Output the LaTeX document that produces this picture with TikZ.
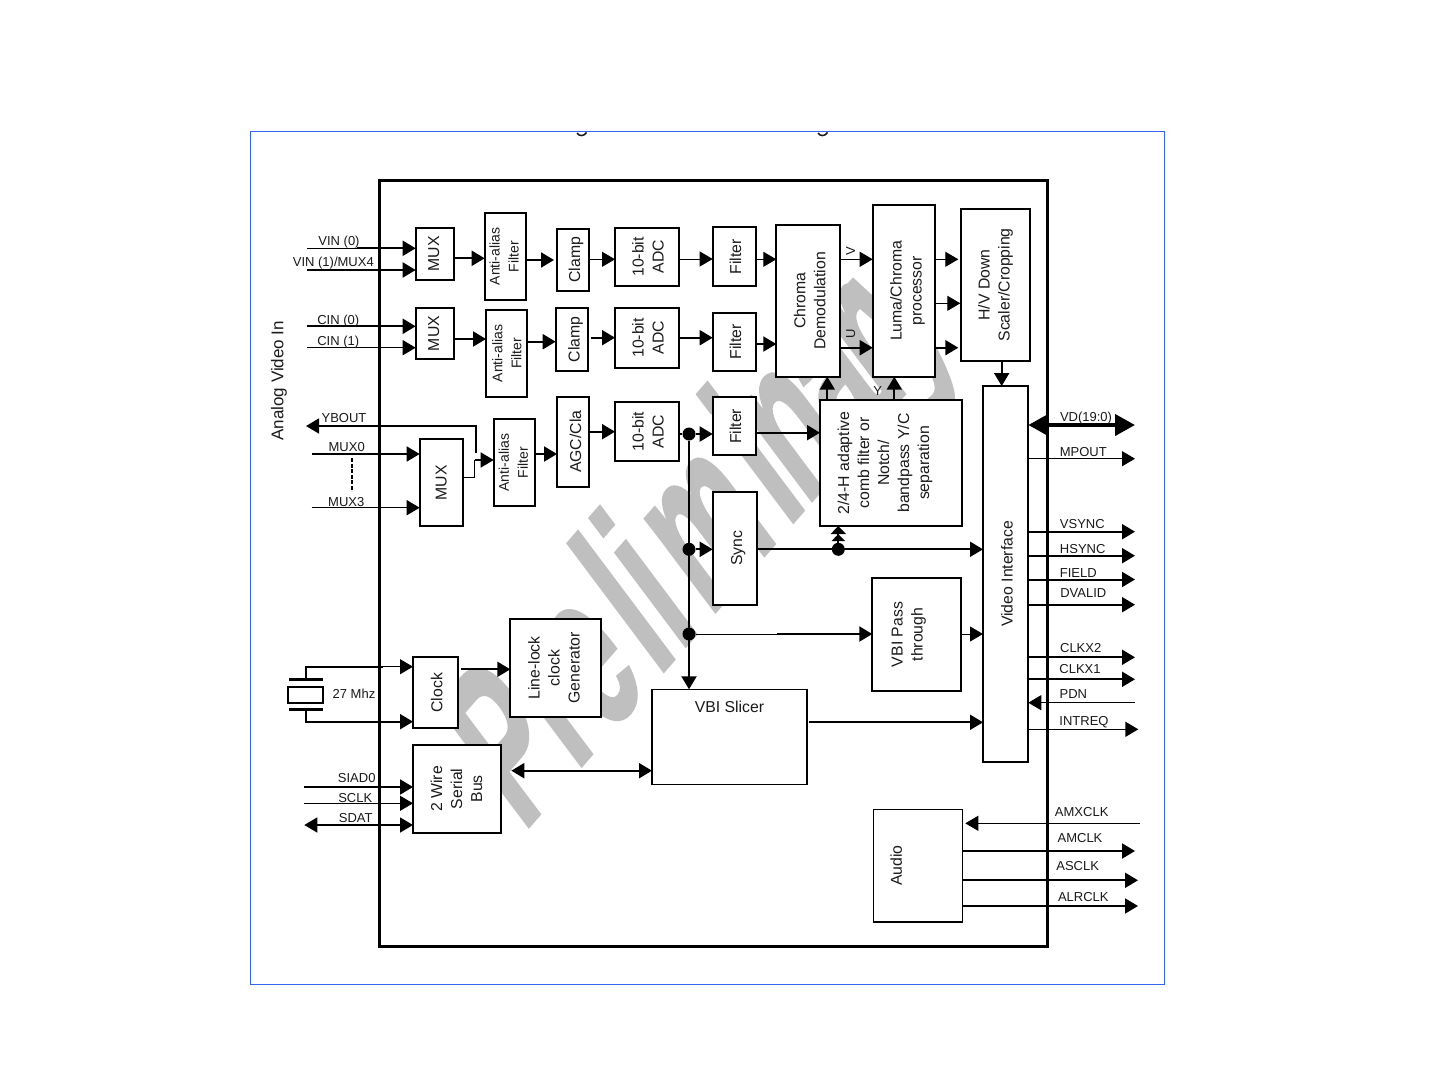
\documentclass[tikz,border=0pt]{standalone}
\usepackage{graphicx}
\usepackage{fontspec}
\setmainfont{Liberation Sans}
\newfontfamily\wmfont[BoldFeatures={FakeBold=1.5}]{Liberation Sans}
\usetikzlibrary{arrows.meta,calc}
\definecolor{ink}{HTML}{1A1A1A}
\definecolor{wm}{HTML}{BFBFBF}
\definecolor{framecol}{HTML}{3366F0}
\tikzset{
  blk/.style={draw=black,fill=white,line width=2pt,inner sep=0pt,outer sep=0pt,text=ink,align=center},
  lab/.style={inner sep=0pt,text=ink,font=\fontsize{13}{15}\selectfont},
  fat/.style={line width=2pt,draw=black},
  mid/.style={line width=1.5pt,draw=black},
  hair/.style={line width=1pt,draw=black},
  arr/.style={-{Triangle[length=13pt,width=15pt]}},
  biarr/.style={{Triangle[length=13pt,width=15pt]}-{Triangle[length=13pt,width=15pt]}},
  jn/.style={circle,fill=black,inner sep=0pt,minimum size=13pt}
}
\newcommand{\rt}[2][0]{\hspace*{\dimexpr #1pt*2\relax}\rotatebox{90}{\fontsize{15.8}{20}\selectfont\begin{tabular}{@{}c@{}}#2\end{tabular}}}
\newcommand{\rs}[2][0]{\hspace*{\dimexpr #1pt*2\relax}\rotatebox{90}{\fontsize{14}{19}\selectfont\begin{tabular}{@{}c@{}}#2\end{tabular}}}
\newcommand{\bx}[6][]{%
  \pgfmathsetmacro{\bxw}{#4-#2}\pgfmathsetmacro{\bxh}{#5-#3}%
  \pgfmathsetmacro{\bxa}{(#4+#2)/2}\pgfmathsetmacro{\bxb}{(#5+#3)/2}%
  \node[blk,minimum width=\bxw pt,minimum height=\bxh pt,#1] (#6) at (\bxa,\bxb)}
\newcommand{\lab}[4]{\node[lab] (#1) at (#2,#3) {#4};}
\newcommand{\hc}[4][fat,arr]{\draw[#1] (#2.east |- 0,#4) -- (#3.west |- 0,#4);}
\newcommand{\rout}[4][fat,arr]{\coordinate (#2e) at (#3,#4); \draw[#1] (vi.east |- #2e) -- (#2e);}
\newcommand{\aout}[4][fat,arr]{\coordinate (#2e) at (#3,#4); \draw[#1] (audio.east |- #2e) -- (#2e);}
\begin{document}
\begin{tikzpicture}[x=1pt,y=-1pt]
\useasboundingbox (0,0) rectangle (1440,1080);
\fill[white] (0,0) rectangle (1440,1080);
% frame
\node[draw=framecol,line width=1pt,minimum width=914pt,minimum height=853pt,inner sep=0pt] (frame) at (707.5,558) {};
% clipped title remnants
\draw[line width=1.5pt,ink] (577,133) .. controls (579,136.5) and (584,136.5) .. (586.5,132.5);
\draw[line width=1.5pt,ink] (818,133) .. controls (820,136.5) and (825,136.5) .. (827.5,132.5);
% watermark
\begin{scope}[cm={0.787,0.906,-1.32,1.76,(523,833)}]
\node[transform shape,anchor=base west,inner sep=0pt,text=wm,font=\fontsize{100}{100}\wmfont\bfseries] (wmark) at (0,0) {Pre\kern10pt li\kern10pt m\kern10pt i\kern-4pt n\kern-6pt a\kern-6pt r\kern-10pt y};
\end{scope}
% chip
\bx[line width=3pt,fill=none]{379}{180}{1047}{946}{chip}{};
% blocks
\bx{415.7}{227.7}{454.3}{280}{mux1}{\rt{MUX}};
\bx{484.7}{213}{525.7}{300}{aa1}{\rs{Anti-alias\\Filter}};
\bx{557}{228.7}{589}{291}{clamp1}{\rt[3]{Clamp}};
\bx{615}{227.7}{679.3}{286}{adc1}{\rt[2.5]{10-bit\\ADC}};
\bx{712.7}{227.3}{755.7}{286}{filter1}{\rt[3]{Filter}};
\bx{776.3}{225}{840.3}{376.7}{chroma}{\rt[3]{Chroma\\Demodulation}};
\bx{872.7}{205}{935.3}{376.7}{luma}{\rt[3.5]{Luma/Chroma\\processor}};
\bx{961.3}{209}{1030}{360.7}{hv}{\rt{H/V Down\\Scaler/Cropping}};
\bx{415.7}{307.7}{454.3}{359.3}{mux2}{\rt{MUX}};
\bx{486.3}{310}{526.7}{396.7}{aa2}{\rs[1.5]{Anti-alias\\Filter}};
\bx{555.7}{307.7}{587.7}{371}{clamp2}{\rt[4]{Clamp}};
\bx{615}{307.7}{679.3}{368}{adc2}{\rt[2.5]{10-bit\\ADC}};
\bx{712.7}{312.7}{755.7}{370.7}{filter2}{\rt[3]{Filter}};
\bx{557}{396.7}{589.3}{486.7}{agc}{\rt[4]{AGC/Cla}};
\bx{615}{402.3}{679.3}{460.7}{adc3}{\rt[2.5]{10-bit\\ADC}};
\bx{493.7}{419.3}{535.3}{506}{aa3}{\rs{Anti-alias\\Filter}};
\bx{419.7}{439.3}{463.3}{526.3}{mux3}{\rt[1]{MUX}};
\bx{712.7}{397.3}{755.7}{455.3}{filter3}{\rt[3]{Filter}};
\bx{820}{400}{962}{526}{comb}{\rt[-6]{2/4-H adaptive\\comb filter or\\Notch/\\bandpass Y/C\\separation}};
\bx{712.7}{492}{757.3}{604.7}{sync}{\rt[3]{Sync}};
\bx{983}{386}{1028.3}{761.7}{vi}{\rt[3]{Video Interface}};
\bx{872.3}{577.7}{960.7}{691.3}{vbip}{\rt[-8]{VBI Pass\\through}};
\bx{413}{657}{457.7}{728.3}{clock}{\rt[3]{Clock}};
\bx{510.3}{619}{600.7}{717}{linelock}{\rt{Line-lock\\clock\\Generator}};
\bx{413}{744.7}{501.3}{833}{wire}{\rt[1]{2 Wire\\Serial\\Bus}};
\bx[line width=1.5pt,align=center]{652}{689.3}{807}{784.7}{slicer}{};
\node[inner sep=0pt,text=ink,font=\fontsize{15.8}{18}\selectfont] (slicerlab) at (729.5,706.5) {VBI Slicer};
\bx[line width=1.5pt]{873.3}{809.3}{962.3}{922}{audio}{\rt[-20]{Audio}};
% inputs
\coordinate (vin0) at (307,248.3); \coordinate (vin0m) at (357,248.3);
\draw[hair] (vin0) -- (vin0m);
\draw[fat,arr] (vin0m) -- (mux1.west |- vin0m);
\coordinate (vin1) at (307,270); \draw[fat,arr] (vin1) -- (mux1.west |- vin1);
\coordinate (cin0) at (307,326.3); \draw[fat,arr] (cin0) -- (mux2.west |- cin0);
\coordinate (cin1) at (307,347.7); \draw[mid,arr] (cin1) -- (mux2.west |- cin1);
\coordinate (mx0) at (311.7,454); \draw[mid,arr] (mx0) -- (mux3.west |- mx0);
\coordinate (mx3) at (311.7,507.7); \draw[mid,arr] (mx3) -- (mux3.west |- mx3);
\coordinate (dsa) at (352,458); \coordinate (dsb) at (352,491);
\draw[line width=2.5pt,dash pattern=on 4pt off 1.5pt] (dsa) -- (dsb);
% YBOUT
\coordinate (ybout) at (306,426); \coordinate (ybc) at (476,426); \coordinate (ybd) at (476,453);
\draw[mid,arr] (ybd) -- (ybc) -- (ybout);
\coordinate (ma) at (474.5,477.7); \coordinate (mb) at (474.5,460);
\draw[mid] (mux3.east |- ma) -- (ma) -- (mb);
\draw[mid,arr] (mb) -- (aa3.west |- mb);
% row 1
\hc{mux1}{aa1}{258.3}
\hc[fat,arr,shorten >=3pt]{aa1}{clamp1}{260}
\hc[hair,arr]{clamp1}{adc1}{259.3}
\hc[hair,arr]{adc1}{filter1}{259}
\hc[hair,arr]{filter1}{chroma}{259.3}
\hc[hair,arr]{chroma}{luma}{259.3}
\hc[hair,arr,shorten >=3pt]{luma}{hv}{259.3}
\hc[hair,arr,shorten >=1pt]{luma}{hv}{303.3}
\hc[fat,arr,shorten >=3pt]{luma}{hv}{347.7}
% row 2
\hc{mux2}{aa2}{339}
\hc{aa2}{clamp2}{341.7}
\hc[fat,arr,shorten <=3pt]{clamp2}{adc2}{337.7}
\hc{adc2}{filter2}{337.7}
\hc{filter2}{chroma}{344}
\hc{chroma}{luma}{347.7}
% row 3
\hc{aa3}{agc}{454}
\hc{agc}{adc3}{431.7}
\node[jn] (j1) at (689,434) {};
\node[jn] (j2) at (689,549.3) {};
\node[jn] (j3) at (689,634) {};
\node[jn] (j4) at (838.3,549.3) {};
\draw[fat] (adc3.east |- j1) -- (j1);
\draw[fat,arr] (j1) -- (filter3.west |- j1);
\draw[fat,arr] (j1) -- (slicer.north -| j1);
\draw[fat,arr] (j2) -- (sync.west |- j2);
\coordinate (j3m) at (777,634);
\draw[hair] (j3) -- (j3m);
\draw[fat,arr] (j3m) -- (vbip.west |- j3m);
\hc[hair,arr]{vbip}{vi}{634}
\hc{filter3}{comb}{432.7}
\draw[fat,arr] (sync.east |- j4) -- (vi.west |- j4);
\draw[fat,-{Triangle[length=7pt,width=13pt] Triangle[length=8pt,width=15pt]}] (j4) -- (comb.south -| j4);
\coordinate (c1) at (827.3,400); \draw[fat,arr] (comb.north -| c1) -- (chroma.south -| c1);
\coordinate (c2) at (894.3,400); \draw[fat,arr] (comb.north -| c2) -- (luma.south -| c2);
\coordinate (c3) at (1001.7,370); \draw[fat,arr] (hv.south -| c3) -- (vi.north -| c3);
\hc[fat,arr,shorten <=2pt]{slicer}{vi}{722.3}
% clock section
\node[draw=black,line width=2pt,fill=white,minimum width=35pt,minimum height=16pt,inner sep=0pt] (xtal) at (305.8,694.7) {};
\coordinate (pta) at (289.3,679); \coordinate (ptb) at (322.7,679);
\coordinate (pba) at (289.3,709); \coordinate (pbb) at (322.7,709);
\draw[line width=3pt] (pta) -- (ptb);
\draw[line width=3pt] (pba) -- (pbb);
\coordinate (xta) at (305.7,679); \coordinate (xtb) at (383,666.7);
\coordinate (xba) at (305.7,709); \coordinate (xbb) at (305.7,721.7);
\draw[fat] (xta) |- (xtb);
\draw[hair,arr] (xtb) -- (clock.west |- xtb);
\draw[fat,arr] (xba) -- (xbb) -- (clock.west |- xbb);
\hc[fat,arr,shorten <=3pt]{clock}{linelock}{669.3}
\draw[fat,biarr,shorten <=10pt] (wire.east |- 0,770.7) -- (slicer.west |- 0,770.7);
\coordinate (siad) at (304.3,787); \draw[fat,arr] (siad) -- (wire.west |- siad);
\coordinate (sclk) at (304.3,803.3); \draw[hair,arr] (sclk) -- (wire.west |- sclk);
\coordinate (sdat) at (304.3,825); \draw[mid,biarr] (sdat) -- (wire.west |- sdat);
% outputs
\coordinate (vdr) at (1135,425);
\draw[line width=4pt,{Triangle[length=20pt,width=21pt]}-{Triangle[length=20pt,width=21pt]}] (vi.east |- vdr) -- (vdr);
\rout[hair,arr]{mp}{1135}{458.7}
\rout{vs}{1135}{531.7}
\rout{hs}{1135}{555.7}
\rout{fd}{1135}{579.5}
\rout{dv}{1135}{604.7}
\rout{ca}{1135}{657.3}
\rout{cb}{1135}{679.3}
\coordinate (pdn) at (1135,702.7); \draw[mid,arr] (pdn) -- (vi.east |- pdn);
\rout[mid,arr]{ir}{1138.3}{729.3}
\coordinate (amx) at (1140,823.3); \draw[hair,arr,shorten >=3pt] (amx) -- (audio.east |- amx);
\aout{am}{1135}{851}
\aout{as}{1138}{880.3}
\aout{al}{1138}{906}
% labels
\lab{l1}{339}{241.7}{VIN (0)}
\lab{l2}{333.3}{262.7}{VIN (1)/MUX4}
\lab{l3}{338.3}{320.7}{CIN (0)}
\lab{l4}{338.3}{341.7}{CIN (1)}
\lab{l5}{344}{418.3}{YBOUT}
\lab{l6}{346.7}{446.7}{MUX0}
\lab{l7}{346.3}{501.7}{MUX3}
\node[inner sep=0pt,text=ink,rotate=90,font=\fontsize{17}{20}\selectfont] (lavi) at (279,380.7) {Analog Video In};
\lab{l8}{354}{694}{27 Mhz}
\lab{l9}{356.7}{778.3}{SIAD0}
\lab{l10}{355.3}{798.3}{SCLK}
\lab{l11}{355.7}{818}{SDAT}
\node[lab,rotate=90] (lv) at (850.7,251) {V};
\node[lab,rotate=90] (lu) at (850.7,333.3) {U};
\lab{ly}{877.7}{390.7}{Y}
\lab{r1}{1086}{418.3}{VD(19:0)}
\lab{r2}{1083.3}{452}{MPOUT}
\lab{r3}{1082.3}{524}{VSYNC}
\lab{r4}{1082.7}{549.3}{HSYNC}
\lab{r5}{1078.3}{573.3}{FIELD}
\lab{r6}{1083.3}{593.3}{DVALID}
\lab{r7}{1080.7}{648.3}{CLKX2}
\lab{r8}{1080}{669.3}{CLKX1}
\lab{r9}{1073.3}{693.7}{PDN}
\lab{r10}{1084}{721.7}{INTREQ}
\lab{r11}{1081.7}{812.3}{AMXCLK}
\lab{r12}{1080}{837.7}{AMCLK}
\lab{r13}{1077.7}{865.7}{ASCLK}
\lab{r14}{1083.3}{897}{ALRCLK}
\end{tikzpicture}
\end{document}
